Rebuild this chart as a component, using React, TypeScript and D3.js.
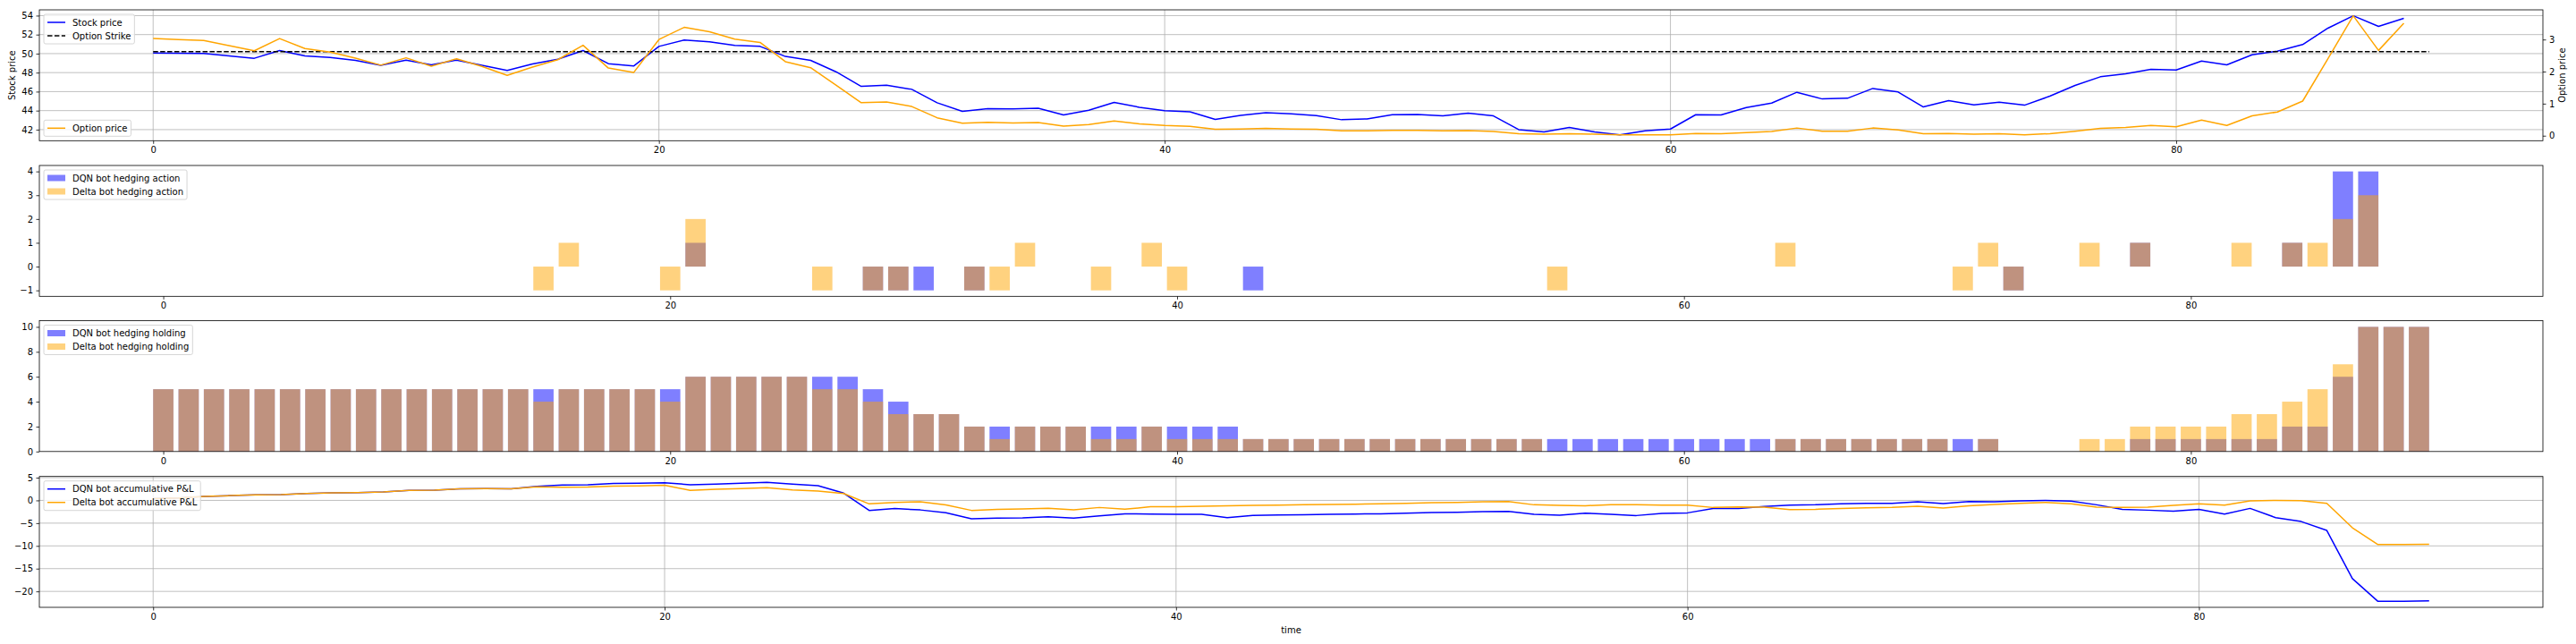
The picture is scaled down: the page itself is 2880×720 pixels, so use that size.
import React, { useEffect, useRef } from 'react';
import * as d3 from 'd3';

// underlying and option, t = 0..89
const stockPrice = [
  50.07, 50.04, 50.01, 49.76, 49.51, 50.32, 49.76, 49.60, 49.29, 48.78,
  49.32, 48.82, 49.32, 48.78, 48.22, 48.91, 49.41, 50.32, 48.94, 48.69,
  50.76, 51.42, 51.24, 50.86, 50.76, 49.70, 49.29, 48.09, 46.55, 46.68,
  46.24, 44.83, 43.92, 44.20, 44.17, 44.26, 43.54, 44.04, 44.86, 44.35,
  44.00, 43.88, 43.07, 43.50, 43.79, 43.66, 43.48, 43.04, 43.13, 43.57,
  43.60, 43.44, 43.73, 43.44, 42.00, 41.75, 42.22, 41.75, 41.46, 41.87,
  42.06, 43.57, 43.54, 44.32, 44.79, 45.93, 45.23, 45.30, 46.33, 45.96,
  44.39, 45.05, 44.61, 44.89, 44.57, 45.52, 46.65, 47.56, 47.87, 48.34,
  48.28, 49.22, 48.82, 49.88, 50.26, 50.95, 52.68, 53.98, 52.87, 53.72
];
const optionPrice = [
  3.03, 3.00, 2.97, 2.81, 2.65, 3.03, 2.72, 2.61, 2.42, 2.20,
  2.43, 2.17, 2.40, 2.16, 1.88, 2.14, 2.37, 2.82, 2.11, 1.97,
  3.00, 3.38, 3.24, 3.01, 2.91, 2.31, 2.12, 1.58, 1.03, 1.05,
  0.91, 0.56, 0.39, 0.42, 0.40, 0.41, 0.30, 0.35, 0.46, 0.37,
  0.32, 0.29, 0.20, 0.21, 0.23, 0.21, 0.20, 0.15, 0.15, 0.17,
  0.17, 0.15, 0.16, 0.13, 0.06, 0.05, 0.06, 0.05, 0.03, 0.03,
  0.03, 0.07, 0.065, 0.10, 0.13, 0.24, 0.14, 0.14, 0.24, 0.18,
  0.06, 0.07, 0.05, 0.06, 0.03, 0.065, 0.14, 0.23, 0.26, 0.32,
  0.28, 0.49, 0.32, 0.62, 0.74, 1.08, 2.40, 3.74, 2.66, 3.51
];
const strikePrice = 50.2;
const strikeSpan = [0, 90];

// hedging actions
const dqnAction = [
  0, 0, 0, 0, 0, 0, 0, 0, 0, 0,
  0, 0, 0, 0, 0, 0, 0, 0, 0, 0,
  0, 1, 0, 0, 0, 0, 0, 0, -1, -1,
  -1, 0, -1, 0, 0, 0, 0, 0, 0, 0,
  0, 0, 0, -1, 0, 0, 0, 0, 0, 0,
  0, 0, 0, 0, 0, 0, 0, 0, 0, 0,
  0, 0, 0, 0, 0, 0, 0, 0, 0, 0,
  0, 0, 0, -1, 0, 0, 0, 0, 1, 0,
  0, 0, 0, 0, 1, 0, 4, 4, 0, 0
];
const deltaAction = [
  0, 0, 0, 0, 0, 0, 0, 0, 0, 0,
  0, 0, 0, 0, 0, -1, 1, 0, 0, 0,
  -1, 2, 0, 0, 0, 0, -1, 0, -1, -1,
  0, 0, -1, -1, 1, 0, 0, -1, 0, 1,
  -1, 0, 0, 0, 0, 0, 0, 0, 0, 0,
  0, 0, 0, 0, 0, -1, 0, 0, 0, 0,
  0, 0, 0, 0, 1, 0, 0, 0, 0, 0,
  0, -1, 1, -1, 0, 0, 1, 0, 1, 0,
  0, 0, 1, 0, 1, 1, 2, 3, 0, 0
];

// hedging holdings
const dqnHolding = [
  5, 5, 5, 5, 5, 5, 5, 5, 5, 5,
  5, 5, 5, 5, 5, 5, 5, 5, 5, 5,
  5, 6, 6, 6, 6, 6, 6, 6, 5, 4,
  3, 3, 2, 2, 2, 2, 2, 2, 2, 2,
  2, 2, 2, 1, 1, 1, 1, 1, 1, 1,
  1, 1, 1, 1, 1, 1, 1, 1, 1, 1,
  1, 1, 1, 1, 1, 1, 1, 1, 1, 1,
  1, 1, 1, 0, 0, 0, 0, 0, 1, 1,
  1, 1, 1, 1, 2, 2, 6, 10, 10, 10
];
const deltaHolding = [
  5, 5, 5, 5, 5, 5, 5, 5, 5, 5,
  5, 5, 5, 5, 5, 4, 5, 5, 5, 5,
  4, 6, 6, 6, 6, 6, 5, 5, 4, 3,
  3, 3, 2, 1, 2, 2, 2, 1, 1, 2,
  1, 1, 1, 1, 1, 1, 1, 1, 1, 1,
  1, 1, 1, 1, 1, 0, 0, 0, 0, 0,
  0, 0, 0, 0, 1, 1, 1, 1, 1, 1,
  1, 0, 1, 0, 0, 0, 1, 1, 2, 2,
  2, 2, 3, 3, 4, 5, 7, 10, 10, 10
];

// accumulative P&L
const dqnPnl = [
  0.40, 0.55, 0.85, 1.05, 1.20, 1.25, 1.50, 1.65, 1.70, 1.85,
  2.20, 2.25, 2.55, 2.60, 2.55, 3.10, 3.40, 3.45, 3.70, 3.75,
  3.85, 3.45, 3.60, 3.75, 3.95, 3.60, 3.25, 1.60, -2.20, -1.80,
  -2.10, -2.70, -4.05, -3.90, -3.85, -3.60, -3.90, -3.40, -2.95, -3.00,
  -3.07, -3.07, -3.80, -3.30, -3.20, -3.14, -3.07, -3.00, -2.94, -2.81,
  -2.68, -2.61, -2.48, -2.41, -3.07, -3.27, -2.81, -3.07, -3.33, -2.87,
  -2.74, -1.76, -1.76, -1.36, -1.04, -0.97, -0.77, -0.64, -0.64, -0.31,
  -0.71, -0.25, -0.31, -0.12, 0.01, -0.18, -0.97, -1.96, -2.15, -2.35,
  -1.96, -3.00, -1.76, -3.79, -4.65, -6.61, -17.2, -22.2, -22.2, -22.1
];
const deltaPnl = [
  0.40, 0.55, 0.85, 1.05, 1.20, 1.25, 1.50, 1.65, 1.70, 1.85,
  2.20, 2.25, 2.55, 2.60, 2.55, 3.00, 2.90, 2.95, 3.15, 3.20,
  3.35, 2.20, 2.45, 2.60, 2.80, 2.30, 2.05, 1.50, -0.77, -0.45,
  -0.30, -1.00, -2.20, -2.00, -1.90, -1.75, -2.10, -1.56, -1.95, -1.40,
  -1.40, -1.30, -1.20, -1.10, -1.04, -0.97, -0.91, -0.84, -0.77, -0.64,
  -0.51, -0.45, -0.31, -0.25, -0.97, -1.10, -1.17, -0.97, -0.97, -1.04,
  -1.04, -1.56, -1.43, -1.50, -2.02, -1.96, -1.76, -1.63, -1.56, -1.30,
  -1.69, -1.17, -0.91, -0.64, -0.45, -0.77, -1.50, -1.56, -1.50, -1.10,
  -0.77, -1.04, -0.12, 0.01, -0.05, -0.64, -6.02, -9.70, -9.70, -9.63
];

const timeTicks = [0, 20, 40, 60, 80];
const stockTicks = [42, 44, 46, 48, 50, 52, 54];
const optionTicks = [0, 1, 2, 3];
const actionTicks = [-1, 0, 1, 2, 3, 4];
const holdingTicks = [0, 2, 4, 6, 8, 10];
const pnlTicks = [-20, -15, -10, -5, 0, 5];

const FONT = 'DejaVu Sans';
const BLUE = '#0000ff';
const ORANGE = '#ffa500';
const GRID = '#b0b0b0';
const fmt = d3.format('d');

const W = 2880, H = 720;
const left = 44, right = 2843;
const tops = [11, 185, 358.5, 532.7];
const ph = 146.3;

// matplotlib style 5% margins
function padded(lo: number, hi: number) {
  const r = hi - lo;
  return [lo - r * 0.05, hi + r * 0.05];
}

function styleAxis(g: any) {
  g.select('.domain').remove();
  g.attr('font-family', FONT).attr('font-size', 10);
  g.selectAll('.tick line').attr('stroke', 'black').attr('stroke-width', 0.8);
  g.selectAll('.tick text').attr('fill', 'black');
}

function xAxis(g: any, x: any, bottom: number) {
  g.attr('transform', `translate(0,${bottom})`)
    .call(d3.axisBottom(x).tickValues(timeTicks).tickFormat(fmt)
      .tickSize(3.5).tickPadding(3.5).tickSizeOuter(0));
  styleAxis(g);
}

function yAxis(g: any, y: any, ticks: number[], side: string) {
  const ax = side === 'left' ? d3.axisLeft(y) : d3.axisRight(y);
  g.attr('transform', `translate(${side === 'left' ? left : right},0)`)
    .call(ax.tickValues(ticks).tickFormat(fmt).tickSize(3.5).tickPadding(3.5).tickSizeOuter(0));
  styleAxis(g);
}

function grid(g: any, x: any, y: any, yt: number[], top: number) {
  g.selectAll('line.vx').data(timeTicks).join('line')
    .attr('x1', (d: number) => x(d)).attr('x2', (d: number) => x(d))
    .attr('y1', top).attr('y2', top + ph)
    .attr('stroke', GRID).attr('stroke-width', 0.8);
  g.selectAll('line.hy').data(yt).join('line')
    .attr('x1', left).attr('x2', right)
    .attr('y1', (d: number) => y(d)).attr('y2', (d: number) => y(d))
    .attr('stroke', GRID).attr('stroke-width', 0.8);
}

function frame(svg: any, top: number) {
  svg.append('rect')
    .attr('x', left).attr('y', top).attr('width', right - left).attr('height', ph)
    .attr('fill', 'none').attr('stroke', 'black').attr('stroke-width', 0.8);
}

// legend box, items: {label, kind, color, dash}
function legend(svg: any, top: number, items: any[], atBottom: boolean) {
  const n = items.length;
  const hgt = 8 + 10 * n + 5 * (n - 1);
  const x0 = left + 5;
  const y0 = atBottom ? top + ph - 5 - hgt : top + 5;
  const g = svg.append('g');
  const box = g.append('rect')
    .attr('x', x0).attr('y', y0).attr('height', hgt).attr('rx', 2)
    .attr('fill', 'white').attr('fill-opacity', 0.8)
    .attr('stroke', '#d6d6d6').attr('stroke-width', 1);
  let maxW = 0;
  items.forEach((it, i) => {
    const cy = y0 + 9 + i * 15;
    if (it.kind === 'line') {
      g.append('line')
        .attr('x1', x0 + 4).attr('x2', x0 + 24).attr('y1', cy).attr('y2', cy)
        .attr('stroke', it.color).attr('stroke-width', 1.5)
        .attr('stroke-dasharray', it.dash || null);
    } else {
      g.append('rect')
        .attr('x', x0 + 4).attr('y', cy - 3.5).attr('width', 20).attr('height', 7)
        .attr('fill', it.color).attr('fill-opacity', 0.5);
    }
    const t = g.append('text')
      .attr('x', x0 + 32).attr('y', cy + 3.6)
      .attr('font-family', FONT).attr('font-size', 10).attr('fill', 'black')
      .text(it.label);
    maxW = Math.max(maxW, t.node().getComputedTextLength());
  });
  box.attr('width', 36 + maxW);
}

function bars(g: any, x: any, y: any, vals: number[], color: string) {
  g.selectAll('rect').data(vals).join('rect')
    .attr('x', (d: number, i: number) => x(i - 0.4))
    .attr('width', x(0.8) - x(0))
    .attr('y', (d: number) => Math.min(y(0), y(d)))
    .attr('height', (d: number) => Math.abs(y(d) - y(0)))
    .attr('fill', color).attr('fill-opacity', 0.5);
}

function drawChart(node: SVGSVGElement) {
  const svg = d3.select(node);
  svg.selectAll('*').remove();
  svg.append('rect').attr('width', W).attr('height', H).attr('fill', 'white');

  const idx = stockPrice.map((d, i) => i);

  // ---- panel 1: stock and option price
  const t1 = tops[0];
  const x1 = d3.scaleLinear().domain(padded(strikeSpan[0], strikeSpan[1])).range([left, right]);
  const y1 = d3.scaleLinear()
    .domain(padded(Math.min(d3.min(stockPrice) as number, strikePrice), Math.max(d3.max(stockPrice) as number, strikePrice)))
    .range([t1 + ph, t1]);
  const y1r = d3.scaleLinear()
    .domain(padded(d3.min(optionPrice) as number, d3.max(optionPrice) as number))
    .range([t1 + ph, t1]);
  svg.append('g').call(grid, x1, y1, stockTicks, t1);
  const stockLine = d3.line<number>().x((d, i) => x1(i)).y(d => y1(d));
  svg.append('path').datum(stockPrice).attr('d', stockLine)
    .attr('fill', 'none').attr('stroke', BLUE).attr('stroke-width', 1.5).attr('stroke-linejoin', 'round');
  svg.append('line')
    .attr('x1', x1(strikeSpan[0])).attr('x2', x1(strikeSpan[1]))
    .attr('y1', y1(strikePrice)).attr('y2', y1(strikePrice))
    .attr('stroke', 'black').attr('stroke-width', 1.5).attr('stroke-dasharray', '5.5,2.4');
  legend(svg, t1, [
    { label: 'Stock price', kind: 'line', color: BLUE },
    { label: 'Option Strike', kind: 'line', color: 'black', dash: '5.5,2.4' }
  ], false);
  const optLine = d3.line<number>().x((d, i) => x1(i)).y(d => y1r(d));
  svg.append('path').datum(optionPrice).attr('d', optLine)
    .attr('fill', 'none').attr('stroke', ORANGE).attr('stroke-width', 1.5).attr('stroke-linejoin', 'round');
  legend(svg, t1, [{ label: 'Option price', kind: 'line', color: ORANGE }], true);
  svg.append('g').call(xAxis, x1, t1 + ph);
  svg.append('g').call(yAxis, y1, stockTicks, 'left');
  svg.append('g').call(yAxis, y1r, optionTicks, 'right');
  frame(svg, t1);
  svg.append('text')
    .attr('transform', `translate(13,${t1 + ph / 2}) rotate(-90)`)
    .attr('text-anchor', 'middle').attr('dy', '0.35em')
    .attr('font-family', FONT).attr('font-size', 10).text('Stock price');
  svg.append('text')
    .attr('transform', `translate(2864,${t1 + ph / 2}) rotate(-90)`)
    .attr('text-anchor', 'middle').attr('dy', '0.35em')
    .attr('font-family', FONT).attr('font-size', 10).text('Option price');

  // ---- panel 2: hedging actions
  const t2 = tops[1];
  const xb = d3.scaleLinear().domain(padded(-0.4, idx.length - 1 + 0.4)).range([left, right]);
  const allAct = dqnAction.concat(deltaAction);
  const y2 = d3.scaleLinear()
    .domain(padded(Math.min(0, d3.min(allAct) as number), d3.max(allAct) as number))
    .range([t2 + ph, t2]);
  svg.append('g').call(bars, xb, y2, dqnAction, BLUE);
  svg.append('g').call(bars, xb, y2, deltaAction, ORANGE);
  legend(svg, t2, [
    { label: 'DQN bot hedging action', kind: 'patch', color: BLUE },
    { label: 'Delta bot hedging action', kind: 'patch', color: ORANGE }
  ], false);
  svg.append('g').call(xAxis, xb, t2 + ph);
  svg.append('g').call(yAxis, y2, actionTicks, 'left');
  frame(svg, t2);

  // ---- panel 3: hedging holdings
  const t3 = tops[2];
  const maxHold = d3.max(dqnHolding.concat(deltaHolding)) as number;
  const y3 = d3.scaleLinear().domain([0, maxHold * 1.05]).range([t3 + ph, t3]);
  svg.append('g').call(bars, xb, y3, dqnHolding, BLUE);
  svg.append('g').call(bars, xb, y3, deltaHolding, ORANGE);
  legend(svg, t3, [
    { label: 'DQN bot hedging holding', kind: 'patch', color: BLUE },
    { label: 'Delta bot hedging holding', kind: 'patch', color: ORANGE }
  ], false);
  svg.append('g').call(xAxis, xb, t3 + ph);
  svg.append('g').call(yAxis, y3, holdingTicks, 'left');
  frame(svg, t3);

  // ---- panel 4: accumulative P&L
  const t4 = tops[3];
  const x4 = d3.scaleLinear().domain(padded(0, dqnPnl.length - 1)).range([left, right]);
  const allPnl = dqnPnl.concat(deltaPnl);
  const y4 = d3.scaleLinear()
    .domain(padded(d3.min(allPnl) as number, d3.max(allPnl) as number))
    .range([t4 + ph, t4]);
  svg.append('g').call(grid, x4, y4, pnlTicks, t4);
  const pnlLine = d3.line<number>().x((d, i) => x4(i)).y(d => y4(d));
  svg.append('path').datum(dqnPnl).attr('d', pnlLine)
    .attr('fill', 'none').attr('stroke', BLUE).attr('stroke-width', 1.5).attr('stroke-linejoin', 'round');
  svg.append('path').datum(deltaPnl).attr('d', pnlLine)
    .attr('fill', 'none').attr('stroke', ORANGE).attr('stroke-width', 1.5).attr('stroke-linejoin', 'round');
  legend(svg, t4, [
    { label: 'DQN bot accumulative P&L', kind: 'line', color: BLUE },
    { label: 'Delta bot accumulative P&L', kind: 'line', color: ORANGE }
  ], false);
  svg.append('g').call(xAxis, x4, t4 + ph);
  svg.append('g').call(yAxis, y4, pnlTicks, 'left');
  frame(svg, t4);
  svg.append('text')
    .attr('x', (left + right) / 2).attr('y', 707.5)
    .attr('text-anchor', 'middle')
    .attr('font-family', FONT).attr('font-size', 10).text('time');
}

export default function App() {
  const ref = useRef<SVGSVGElement>(null);
  useEffect(() => {
    if (ref.current) drawChart(ref.current);
  }, []);
  return (
    <svg ref={ref} width={W} height={H}
      style={{ position: 'absolute', left: 0, top: 0, display: 'block' }} />
  );
}
